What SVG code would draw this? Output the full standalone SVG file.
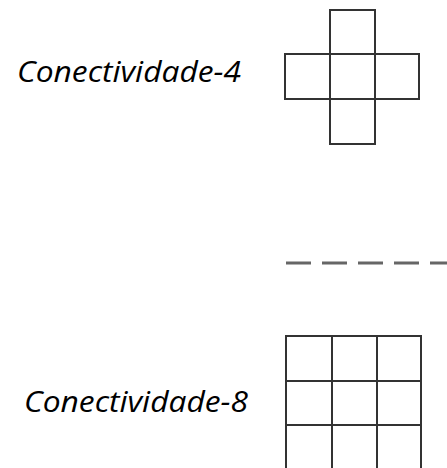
<svg xmlns="http://www.w3.org/2000/svg" width="447" height="468" viewBox="0 0 447 468">
<style>
.lbl{font-family:"Open Sans","Liberation Sans",sans-serif;font-style:italic;font-size:29px;fill:#000}
.cell{fill:none;stroke:#333;stroke-width:2}
.dash{stroke:#666;stroke-width:3;stroke-dasharray:25 11}
</style>
<rect width="447" height="468" fill="#fff"/>
<g id="label4"><text class="lbl" x="17" y="82" textLength="224" lengthAdjust="spacingAndGlyphs">Conectividade-4</text></g>
<g id="cross4">
<rect class="cell" x="330" y="10" width="45" height="44"/>
<rect class="cell" x="285" y="54" width="45" height="45"/>
<rect class="cell" x="330" y="54" width="45" height="45"/>
<rect class="cell" x="375" y="54" width="44" height="45"/>
<rect class="cell" x="330" y="99" width="45" height="45"/>
</g>
<g id="connectors"><line class="dash" x1="286" y1="263" x2="447" y2="263"/></g>
<g id="label8"><text class="lbl" x="24" y="412" textLength="224" lengthAdjust="spacingAndGlyphs">Conectividade-8</text></g>
<g id="grid8">
<rect class="cell" x="286" y="336" width="135" height="135"/>
<line class="cell" x1="332" y1="336" x2="332" y2="471"/>
<line class="cell" x1="377" y1="336" x2="377" y2="471"/>
<line class="cell" x1="286" y1="381" x2="421" y2="381"/>
<line class="cell" x1="286" y1="425" x2="421" y2="425"/>
</g>
</svg>
